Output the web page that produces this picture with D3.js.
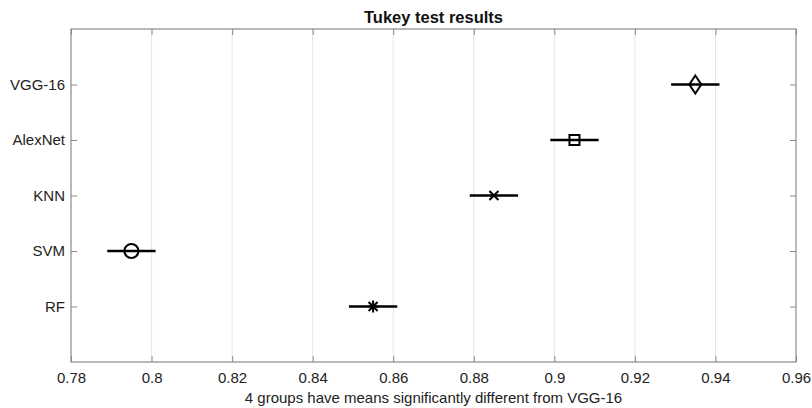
<!DOCTYPE html>
<html>
<head>
<meta charset="utf-8">
<script src="https://cdn.jsdelivr.net/npm/d3@7"></script>
<style>
  body { margin: 0; background: #fff; }
  svg { display: block; font-family: "Liberation Sans", Arial, sans-serif; }
</style>
</head>
<body>
<svg id="chart"></svg>
<script>
// Tukey multiple comparison: group means and comparison intervals
const groups = ['VGG-16', 'AlexNet', 'KNN', 'SVM', 'RF'];
const means = [0.935, 0.905, 0.885, 0.795, 0.855];
const lower = [0.929, 0.899, 0.879, 0.789, 0.849];
const upper = [0.941, 0.911, 0.891, 0.801, 0.861];
const xTicks = [0.78, 0.8, 0.82, 0.84, 0.86, 0.88, 0.9, 0.92, 0.94, 0.96];
const titleText = 'Tukey test results';
const xLabelText = '4 groups have means significantly different from VGG-16';

// marker shape per group (style only)
const markerType = { 'VGG-16': 'diamond', 'AlexNet': 'square', 'KNN': 'x', 'SVM': 'circle', 'RF': 'asterisk' };

const width = 812, height = 408;
const marginLeft = 71, marginRight = 16, marginTop = 29, marginBottom = 46;

const svg = d3.select('#chart')
  .attr('width', width)
  .attr('height', height)
  .attr('viewBox', [0, 0, width, height]);

const x = d3.scaleLinear()
  .domain([0.78, 0.96])
  .range([marginLeft, width - marginRight]);

const y = d3.scalePoint()
  .domain(groups)
  .range([marginTop, height - marginBottom])
  .padding(1);

const fmt = (d) => String(+d.toFixed(2));

// grid
svg.append('g')
  .selectAll('line')
  .data(xTicks.slice(1, -1))
  .join('line')
  .attr('x1', (d) => x(d)).attr('x2', (d) => x(d))
  .attr('y1', marginTop).attr('y2', height - marginBottom)
  .attr('stroke', '#e6e6e6')
  .attr('stroke-width', 1);

// axes (ticks pointing inward, MATLAB style)
function styleAxis(g) {
  g.select('.domain').remove();
  g.selectAll('.tick line').attr('stroke', '#8a8a8a');
  g.selectAll('.tick text').attr('fill', '#222').style('font-size', '15px');
}

svg.append('g')
  .attr('transform', `translate(0,${height - marginBottom})`)
  .call(d3.axisBottom(x).tickValues(xTicks).tickFormat(fmt).tickSizeInner(-6).tickSizeOuter(0).tickPadding(10))
  .call(styleAxis);

svg.append('g')
  .attr('transform', `translate(0,${marginTop})`)
  .call(d3.axisTop(x).tickValues(xTicks).tickFormat('').tickSizeInner(-6).tickSizeOuter(0))
  .call(styleAxis);

svg.append('g')
  .attr('transform', `translate(${marginLeft},0)`)
  .call(d3.axisLeft(y).tickSizeInner(-6).tickSizeOuter(0).tickPadding(6))
  .call(styleAxis);

svg.append('g')
  .attr('transform', `translate(${width - marginRight},0)`)
  .call(d3.axisRight(y).tickFormat('').tickSizeInner(-6).tickSizeOuter(0))
  .call(styleAxis);

// plot box
svg.append('rect')
  .attr('x', marginLeft)
  .attr('y', marginTop)
  .attr('width', width - marginLeft - marginRight)
  .attr('height', height - marginTop - marginBottom)
  .attr('fill', 'none')
  .attr('stroke', '#8a8a8a')
  .attr('stroke-width', 1.2);

// intervals
const rows = groups.map((g, i) => ({ group: g, mean: means[i], lo: lower[i], hi: upper[i] }));

svg.append('g')
  .selectAll('line')
  .data(rows)
  .join('line')
  .attr('x1', (d) => x(d.lo))
  .attr('x2', (d) => x(d.hi))
  .attr('y1', (d) => y(d.group))
  .attr('y2', (d) => y(d.group))
  .attr('stroke', '#000')
  .attr('stroke-width', 2.5);

// markers
function markerPath(type) {
  switch (type) {
    case 'diamond': return 'M0,-9L6,0L0,9L-6,0Z';
    case 'square': return 'M-5,-5H5V5H-5Z';
    case 'x': return 'M-4.5,-4.5L4.5,4.5M-4.5,4.5L4.5,-4.5';
    case 'asterisk': return 'M0,-6V6M-5.5,0H5.5M-4.5,-4.5L4.5,4.5M-4.5,4.5L4.5,-4.5';
    default: return d3.arc()({ innerRadius: 0, outerRadius: 7, startAngle: 0, endAngle: 2 * Math.PI });
  }
}

svg.append('g')
  .selectAll('path')
  .data(rows)
  .join('path')
  .attr('transform', (d) => `translate(${x(d.mean)},${y(d.group)})`)
  .attr('d', (d) => markerPath(markerType[d.group]))
  .attr('fill', 'none')
  .attr('stroke', '#000')
  .attr('stroke-width', 2);

// title and x label
svg.append('text')
  .attr('x', (marginLeft + width - marginRight) / 2)
  .attr('y', 22.5)
  .attr('text-anchor', 'middle')
  .style('font-size', '16.5px')
  .style('font-weight', 'bold')
  .attr('fill', '#111')
  .text(titleText);

svg.append('text')
  .attr('x', (marginLeft + width - marginRight) / 2)
  .attr('y', 403)
  .attr('text-anchor', 'middle')
  .style('font-size', '15px')
  .attr('fill', '#222')
  .text(xLabelText);
</script>
</body>
</html>
